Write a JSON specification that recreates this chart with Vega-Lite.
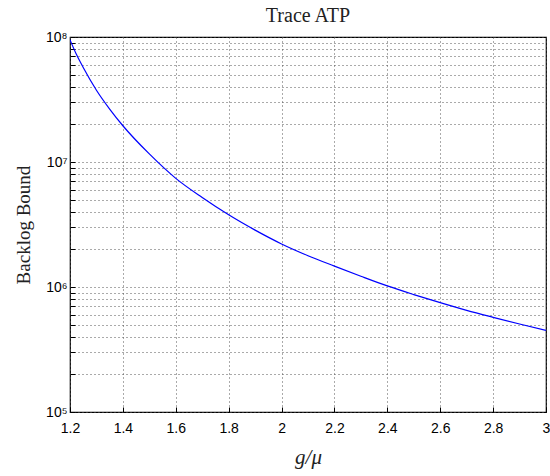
{
  "$schema": "https://vega.github.io/schema/vega-lite/v6.json",
  "width": 476,
  "height": 375,
  "autosize": {"type": "none"},
  "padding": {"left": 70, "top": 37, "right": 4, "bottom": 64},
  "background": "white",
  "title": {"text": "Trace ATP", "font": "Liberation Serif", "fontSize": 20, "fontWeight": "normal", "color": "#222", "anchor": "middle", "offset": 4},
  "config": {
    "view": {"stroke": "#000", "strokeWidth": 1.2},
    "axis": {
      "domain": false,
      "labelFont": "Liberation Sans",
      "labelFontSize": 14,
      "labelColor": "#000",
      "tickColor": "#000",
      "tickSize": -5,
      "grid": true,
      "gridColor": "#555",
      "gridDash": [1, 3],
      "gridWidth": 1,
      "titleFont": "Liberation Serif",
      "titleFontWeight": "normal",
      "titleColor": "#222"
    }
  },
  "data": {
    "values": [
      {"g": 1.2, "b": 95000000},
      {"g": 1.225, "b": 72000000},
      {"g": 1.25, "b": 57000000},
      {"g": 1.3, "b": 37500000},
      {"g": 1.35, "b": 26500000},
      {"g": 1.4, "b": 19500000},
      {"g": 1.5, "b": 11600000},
      {"g": 1.6, "b": 7400000},
      {"g": 1.7, "b": 5200000},
      {"g": 1.8, "b": 3780000},
      {"g": 1.9, "b": 2850000},
      {"g": 2.0, "b": 2210000},
      {"g": 2.1, "b": 1780000},
      {"g": 2.2, "b": 1470000},
      {"g": 2.3, "b": 1220000},
      {"g": 2.4, "b": 1020000},
      {"g": 2.5, "b": 870000},
      {"g": 2.6, "b": 749000},
      {"g": 2.7, "b": 650000},
      {"g": 2.8, "b": 572000},
      {"g": 2.9, "b": 506000},
      {"g": 3.0, "b": 450000}
    ]
  },
  "mark": {"type": "line", "color": "#0000ff", "strokeWidth": 1.2, "interpolate": "monotone", "clip": true},
  "encoding": {
    "x": {
      "field": "g",
      "type": "quantitative",
      "scale": {"domain": [1.2, 3], "nice": false, "zero": false},
      "axis": {
        "values": [1.2, 1.4, 1.6, 1.8, 2.0, 2.2, 2.4, 2.6, 2.8, 3.0],
        "labelPadding": 14,
        "labelFlush": false,
        "labelExpr": "format(datum.value, '.1~f')",
        "title": "g/μ",
        "titleFontStyle": "italic",
        "titleFontSize": 21,
        "titlePadding": 11
      }
    },
    "y": {
      "field": "b",
      "type": "quantitative",
      "scale": {"type": "log", "domain": [100000, 100000000], "nice": false},
      "axis": {
        "values": [100000, 200000, 300000, 400000, 500000, 600000, 700000, 800000, 900000, 1000000, 2000000, 3000000, 4000000, 5000000, 6000000, 7000000, 8000000, 9000000, 10000000, 20000000, 30000000, 40000000, 50000000, 60000000, 70000000, 80000000, 90000000, 100000000],
        "labelExpr": "datum.value == 100000 ? '10⁵' : datum.value == 1000000 ? '10⁶' : datum.value == 10000000 ? '10⁷' : datum.value == 100000000 ? '10⁸' : ''",
        "labelPadding": 8,
        "labelFlush": false,
        "title": "Backlog Bound",
        "titleFontSize": 19,
        "titlePadding": 12
      }
    }
  }
}
